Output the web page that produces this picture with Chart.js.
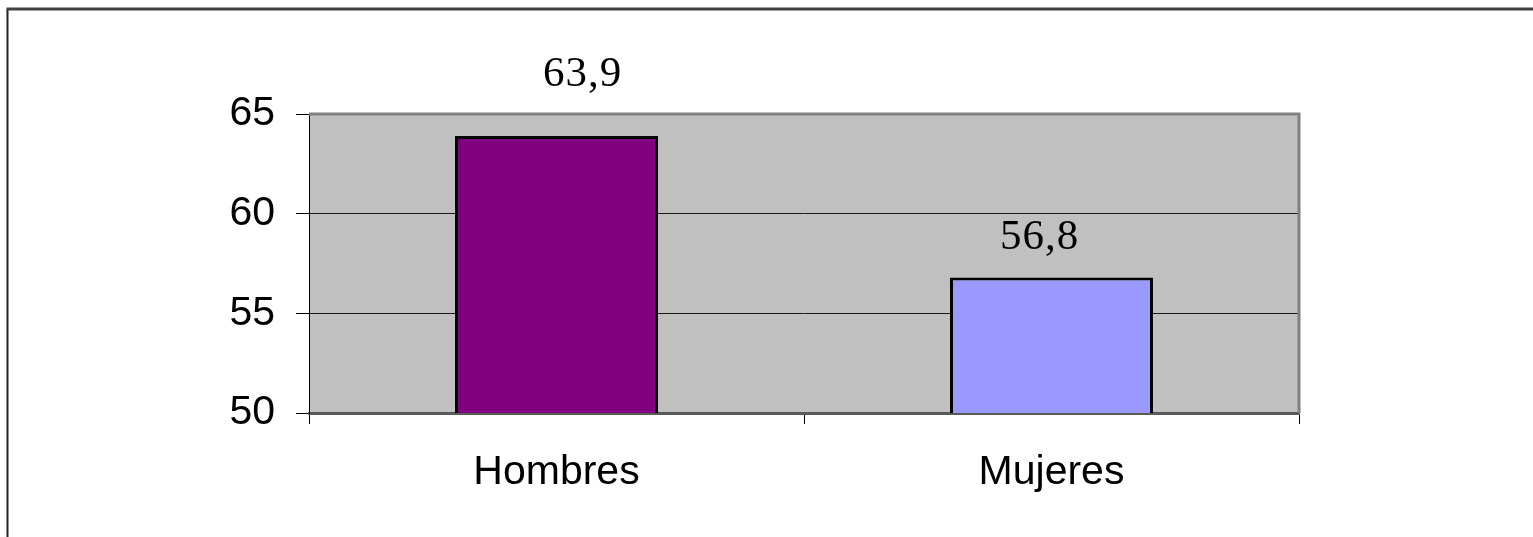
<!DOCTYPE html>
<html>
<head>
<meta charset="utf-8">
<script src="https://cdn.jsdelivr.net/npm/chart.js@4/dist/chart.umd.min.js"></script>
<style>
  html, body { margin: 0; padding: 0; background: #fff; }
  canvas { display: block; }
</style>
</head>
<body>
<canvas id="myChart" width="1533" height="537"></canvas>
<script>
const categories = ['Hombres', 'Mujeres'];
const values = [63.9, 56.8];
const valueLabels = ['63,9', '56,8'];
const barColors = ['#800080', '#9999FF'];
const yTicks = [50, 55, 60, 65];

// frame around the whole picture and grey plot background
const framePlugin = {
    id: 'frame',
    beforeDraw(chart) {
        const ctx = chart.ctx;
        const a = chart.chartArea;
        ctx.save();
        ctx.fillStyle = '#C0C0C0';
        ctx.fillRect(a.left, a.top, a.right - a.left, a.bottom - a.top);
        ctx.strokeStyle = '#222';
        ctx.lineWidth = 2;
        ctx.beginPath();
        ctx.moveTo(7.5, chart.height);
        ctx.lineTo(7.5, 9);
        ctx.stroke();
        ctx.strokeStyle = '#404040';
        ctx.lineWidth = 3;
        ctx.beginPath();
        ctx.moveTo(6.5, 9);
        ctx.lineTo(chart.width, 9);
        ctx.stroke();
        ctx.restore();
    },
    beforeDatasetsDraw(chart) {
        const ctx = chart.ctx;
        const a = chart.chartArea;
        ctx.save();
        ctx.strokeStyle = '#808080';
        ctx.lineWidth = 3;
        ctx.beginPath();
        ctx.moveTo(a.left, a.top);
        ctx.lineTo(a.right, a.top);
        ctx.lineTo(a.right, a.bottom);
        ctx.stroke();
        ctx.restore();
    }
};

// value labels above the bars
const valueLabelPlugin = {
    id: 'valueLabels',
    afterDatasetsDraw(chart, args, opts) {
        const ctx = chart.ctx;
        const meta = chart.getDatasetMeta(0);
        ctx.save();
        ctx.font = '43px "Liberation Serif", "Times New Roman", serif';
        ctx.letterSpacing = '1px';
        ctx.fillStyle = '#000';
        ctx.textAlign = 'center';
        ctx.textBaseline = 'alphabetic';
        meta.data.forEach((bar, i) => {
            const off = opts.offsets[i];
            ctx.fillText(valueLabels[i], bar.x + off[0], bar.y - off[1]);
        });
        ctx.restore();
    }
};

new Chart(document.getElementById('myChart'), {
    type: 'bar',
    data: {
        labels: categories,
        datasets: [{
            data: values,
            backgroundColor: barColors,
            borderColor: '#000',
            borderWidth: 3,
            borderSkipped: false,
            categoryPercentage: 1,
            barPercentage: 0.41
        }]
    },
    options: {
        responsive: false,
        animation: false,
        layout: {
            padding: { top: 114, right: 234, left: 0, bottom: 0 }
        },
        plugins: {
            legend: { display: false },
            tooltip: { enabled: false },
            valueLabels: { offsets: [[26, 50], [-12, 28]] }
        },
        scales: {
            x: {
                grid: {
                    offset: true,
                    drawOnChartArea: false,
                    drawTicks: true,
                    tickLength: 11,
                    tickColor: '#000'
                },
                border: { color: '#5a5a5a', width: 3 },
                ticks: {
                    color: '#000',
                    padding: 24,
                    font: { family: '"Liberation Sans", Arial, sans-serif', size: 41 }
                },
                afterFit(scale) { scale.height = 124; }
            },
            y: {
                min: 50,
                max: 65,
                afterBuildTicks(scale) {
                    scale.ticks = yTicks.map(v => ({ value: v }));
                },
                grid: {
                    color: ctx => (ctx.tick && (ctx.tick.value === 55 || ctx.tick.value === 60)) ? '#1a1a1a' : 'rgba(0,0,0,0)',
                    tickColor: '#000',
                    tickLength: 13,
                    lineWidth: 1
                },
                border: { color: '#000', width: 1 },
                ticks: {
                    color: '#000',
                    padding: 21,
                    font: { family: '"Liberation Sans", Arial, sans-serif', size: 41 }
                },
                afterFit(scale) { scale.width = 309; }
            }
        }
    },
    plugins: [framePlugin, valueLabelPlugin]
});
</script>
</body>
</html>
